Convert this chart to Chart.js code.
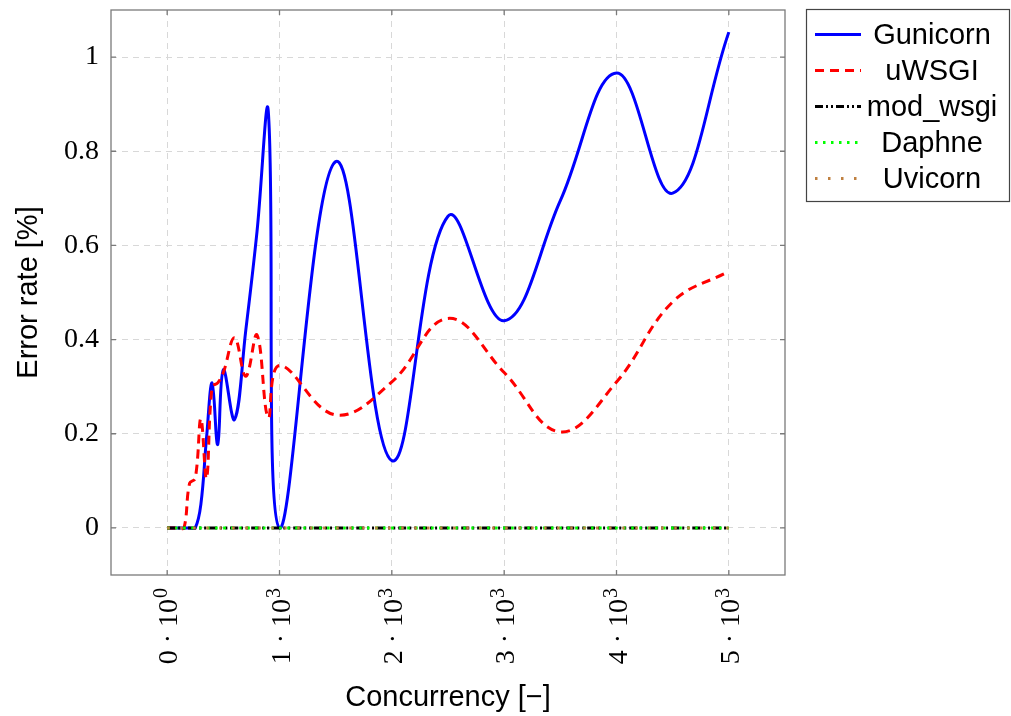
<!DOCTYPE html>
<html><head><meta charset="utf-8">
<script src="https://cdn.jsdelivr.net/npm/chart.js@4/dist/chart.umd.min.js"></script>
<style>html,body{margin:0;padding:0;background:#fff;overflow:hidden}</style>
</head><body>
<canvas id="c" width="1011" height="716" style="display:block;width:1011px;height:716px"></canvas>
<script>
const concurrency = [0, 50, 100, 150, 200, 250, 300, 350, 400, 450, 500, 600, 700, 800, 900, 1000, 1500, 2000, 2500, 3000, 3500, 4000, 4500, 5000];
const gunicorn = [0, 0, 0, 0, 0, 0, 0.05, 0.19, 0.308, 0.177, 0.336, 0.23, 0.42, 0.63, 0.885, 0, 0.778, 0.143, 0.662, 0.44, 0.695, 0.966, 0.711, 1.053];
const uwsgi    = [0, 0, 0, 0, 0.095, 0.105, 0.232, 0.105, 0.30, 0.308, 0.33, 0.404, 0.322, 0.41, 0.234, 0.345, 0.24, 0.31, 0.445, 0.33, 0.204, 0.31, 0.48, 0.545];
const modWsgi  = [0, 0, 0, 0, 0, 0, 0, 0, 0, 0, 0, 0, 0, 0, 0, 0, 0, 0, 0, 0, 0, 0, 0, 0];
const daphne   = [0, 0, 0, 0, 0, 0, 0, 0, 0, 0, 0, 0, 0, 0, 0, 0, 0, 0, 0, 0, 0, 0, 0, 0];
const uvicorn  = [0, 0, 0, 0, 0, 0, 0, 0, 0, 0, 0, 0, 0, 0, 0, 0, 0, 0, 0, 0, 0, 0, 0, 0];
const seriesNames = ['Gunicorn', 'uWSGI', 'mod_wsgi', 'Daphne', 'Uvicorn'];
const xTickValues = [0, 1000, 2000, 3000, 4000, 5000];
const xTickMantissa = ['0 · 10', '1 · 10', '2 · 10', '3 · 10', '4 · 10', '5 · 10'];
const xTickExponent = ['0', '3', '3', '3', '3', '3'];
const yTickValues = [0, 0.2, 0.4, 0.6, 0.8, 1];
const yTickLabels = ['0', '0.2', '0.4', '0.6', '0.8', '1'];
const xTitle = 'Concurrency [−]';
const yTitle = 'Error rate [%]';

const toPts = ys => concurrency.map((x, i) => ({x: x, y: ys[i]}));
const styles = [
  {color: '#0000ff', dash: [], order: 5},
  {color: '#ff0000', dash: [9, 6], order: 4},
  {color: '#000000', dash: [8, 3, 2, 3, 2, 3], order: 3},
  {color: '#00ff00', dash: [2.5, 5.5], order: 2},
  {color: '#bf8040', dash: [2.5, 10.5], order: 1}
];
const seriesValues = [gunicorn, uwsgi, modWsgi, daphne, uvicorn];
const datasets = seriesValues.map((v, i) => ({
  label: seriesNames[i],
  data: toPts(v),
  borderColor: styles[i].color,
  backgroundColor: styles[i].color,
  borderDash: styles[i].dash,
  borderWidth: 3,
  pointRadius: 0,
  tension: 0.4,
  fill: false,
  order: styles[i].order
}));

const serif = '"Liberation Serif", "DejaVu Serif", serif';
const frameColor = '#7a7a7a';
const framePlugin = {
  id: 'frame',
  afterDraw(chart) {
    const {ctx, chartArea: a, scales} = chart;
    ctx.save();
    ctx.strokeStyle = frameColor;
    ctx.lineWidth = 1.3;
    ctx.setLineDash([]);
    ctx.beginPath();
    scales.x.ticks.forEach(t => {
      const px = scales.x.getPixelForValue(t.value);
      ctx.moveTo(px, a.bottom); ctx.lineTo(px, a.bottom - 5);
      ctx.moveTo(px, a.top); ctx.lineTo(px, a.top + 5);
    });
    scales.y.ticks.forEach(t => {
      const py = scales.y.getPixelForValue(t.value);
      ctx.moveTo(a.left, py); ctx.lineTo(a.left + 5, py);
      ctx.moveTo(a.right, py); ctx.lineTo(a.right - 5, py);
    });
    ctx.stroke();
    ctx.strokeRect(a.left, a.top, a.right - a.left, a.bottom - a.top);

    // rotated x tick labels with real superscripts
    ctx.fillStyle = '#000';
    ctx.textAlign = 'left';
    ctx.textBaseline = 'alphabetic';
    scales.x.ticks.forEach((t, i) => {
      const px = scales.x.getPixelForValue(t.value);
      ctx.font = '28px ' + serif;
      const mw = ctx.measureText(xTickMantissa[i]).width;
      ctx.font = '20px ' + serif;
      const ew = ctx.measureText(xTickExponent[i]).width;
      const W = mw + ew + 1;
      ctx.save();
      ctx.translate(px, a.bottom + 13);
      ctx.rotate(-Math.PI / 2);
      ctx.font = '28px ' + serif;
      ctx.fillText(xTickMantissa[i], -W, 10);
      ctx.font = '20px ' + serif;
      ctx.fillText(xTickExponent[i], -W + mw + 1, 0);
      ctx.restore();
    });

    const bx = 806.5, by = 9.5, bw = 203, bh = 192;
    ctx.fillStyle = '#fff';
    ctx.fillRect(bx, by, bw, bh);
    ctx.strokeStyle = '#444';
    ctx.lineWidth = 1.2;
    ctx.strokeRect(bx, by, bw, bh);
    ctx.font = '29px "Liberation Sans", Arial, sans-serif';
    ctx.textAlign = 'center';
    ctx.textBaseline = 'middle';
    chart.data.datasets.forEach((ds, i) => {
      const y = 34.5 + i * 36;
      ctx.strokeStyle = ds.borderColor;
      ctx.lineWidth = ds.borderWidth;
      ctx.setLineDash(ds.borderDash);
      ctx.beginPath();
      ctx.moveTo(815, y); ctx.lineTo(861, y);
      ctx.stroke();
      ctx.setLineDash([]);
      ctx.fillStyle = '#000';
      ctx.fillText(ds.label, 932, y + 1);
    });
    ctx.restore();
  }
};

new Chart(document.getElementById('c'), {
  type: 'line',
  data: {datasets: datasets},
  plugins: [framePlugin],
  options: {
    responsive: false,
    animation: false,
    devicePixelRatio: 1,
    layout: {padding: {top: 10, right: 226, bottom: 0, left: 0}},
    plugins: {legend: {display: false}, tooltip: {enabled: false}},
    scales: {
      x: {
        type: 'linear',
        min: -500, max: 5500,
        afterBuildTicks: s => { s.ticks = xTickValues.map(v => ({value: v})); },
        afterFit: s => { s.height = 141; s.paddingLeft = 0; s.paddingRight = 0; },
        grid: {color: '#d8d8d8', lineWidth: 1, drawTicks: false},
        border: {display: false, dash: [6, 5]},
        ticks: {display: false, autoSkip: false},
        title: {display: true, text: xTitle, color: '#000',
          font: {family: '"Liberation Sans", Arial, sans-serif', size: 29},
          padding: {top: 0, bottom: 1}}
      },
      y: {
        type: 'linear',
        min: -0.1, max: 1.1,
        afterBuildTicks: s => { s.ticks = yTickValues.map(v => ({value: v})); },
        afterFit: s => { s.width = 111; s.paddingTop = 0; s.paddingBottom = 0; },
        grid: {color: '#d8d8d8', lineWidth: 1, drawTicks: false},
        border: {display: false, dash: [6, 5]},
        ticks: {
          padding: 12, color: '#000',
          font: {family: serif, size: 28},
          callback: (v, i) => yTickLabels[i]
        },
        title: {display: true, text: yTitle, color: '#000',
          font: {family: '"Liberation Sans", Arial, sans-serif', size: 29},
          padding: {top: 12, bottom: 0}}
      }
    }
  }
});
</script>
</body></html>
